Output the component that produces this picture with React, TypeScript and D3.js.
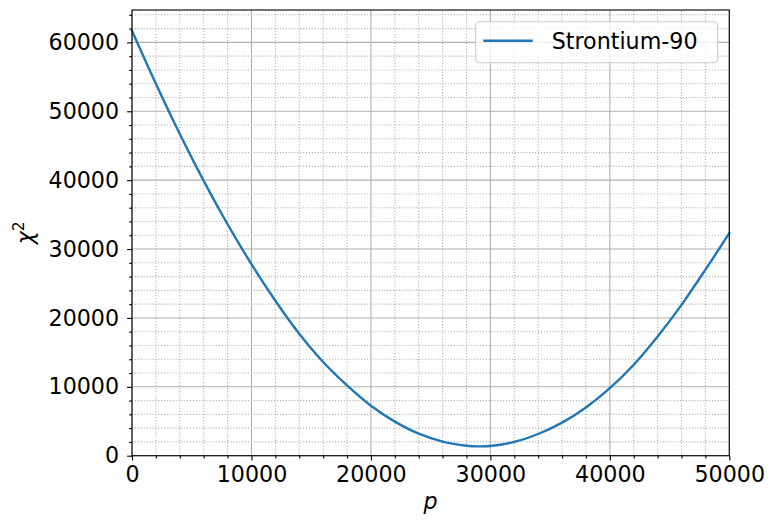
import React, { useEffect, useRef } from 'react';
import * as d3 from 'd3';

// chi^2 scan
const pValues = [0, 2000, 4000, 6000, 8000, 10000, 12000, 14000, 16000, 18000, 20000, 22000, 24000, 26000, 28000, 29000, 30000, 32000, 34000, 36000, 38000, 40000, 42000, 44000, 46000, 48000, 50000];
const chi2Values = [61700, 54000, 46700, 39900, 33600, 27800, 22500, 17700, 13600, 10200, 7250, 4950, 3200, 2050, 1450, 1350, 1400, 2000, 3150, 4800, 7000, 9800, 13200, 17300, 21900, 27000, 32300];
const seriesName = 'Strontium-90';
const xTicks = [0, 10000, 20000, 30000, 40000, 50000];
const yTicks = [0, 10000, 20000, 30000, 40000, 50000, 60000];

const W = 769;
const H = 522;
const FONT = 'DejaVu Sans, sans-serif';
const FS = 22.2;

export default function App() {
  const ref = useRef<SVGSVGElement>(null);

  useEffect(() => {
    const svg = d3.select(ref.current);
    svg.selectAll('*').remove();

    const margin = { top: 10, left: 132, bottom: 66.3, right: 39.7 };
    const x = d3.scaleLinear().domain([0, 50000]).range([margin.left, W - margin.right]);
    const y = d3.scaleLinear().domain([0, 64700]).range([H - margin.bottom, margin.top]);

    const xMinor = d3.range(0, 50001, 2000).filter(v => v % 10000 !== 0);
    const yMinor = d3.range(0, 64700, 2000).filter(v => v % 10000 !== 0);

    svg.append('rect').attr('width', W).attr('height', H).attr('fill', 'white');

    // minor grid (dotted)
    const grid = svg.append('g');
    xMinor.forEach(v => {
      grid.append('line')
        .attr('x1', x(v)).attr('x2', x(v)).attr('y1', y.range()[0]).attr('y2', y.range()[1])
        .attr('stroke', '#b0b0b0').attr('stroke-width', 1.1).attr('stroke-dasharray', '1.1,1.8');
    });
    yMinor.forEach(v => {
      grid.append('line')
        .attr('y1', y(v)).attr('y2', y(v)).attr('x1', x.range()[0]).attr('x2', x.range()[1])
        .attr('stroke', '#b0b0b0').attr('stroke-width', 1.1).attr('stroke-dasharray', '1.1,1.8');
    });
    // major grid
    xTicks.forEach(v => {
      grid.append('line')
        .attr('x1', x(v)).attr('x2', x(v)).attr('y1', y.range()[0]).attr('y2', y.range()[1])
        .attr('stroke', '#b0b0b0').attr('stroke-width', 1.1);
    });
    yTicks.forEach(v => {
      grid.append('line')
        .attr('y1', y(v)).attr('y2', y(v)).attr('x1', x.range()[0]).attr('x2', x.range()[1])
        .attr('stroke', '#b0b0b0').attr('stroke-width', 1.1);
    });

    // curve
    const line = d3.line<number>()
      .x((d, i) => x(pValues[i]))
      .y(d => y(d))
      .curve(d3.curveCatmullRom.alpha(0.5));
    svg.append('path')
      .datum(chi2Values)
      .attr('d', line)
      .attr('fill', 'none')
      .attr('stroke', '#1f77b4')
      .attr('stroke-width', 2.4)
      .attr('stroke-linecap', 'square');

    // axes
    const xAxis = g => g
      .attr('transform', `translate(0,${y(0)})`)
      .call(d3.axisBottom(x).tickValues(xTicks).tickFormat(d3.format('d')).tickSizeInner(4.9).tickSizeOuter(0).tickPadding(5.5))
      .call(sel => sel.select('.domain').remove());
    const xAxisMinor = g => g
      .attr('transform', `translate(0,${y(0)})`)
      .call(d3.axisBottom(x).tickValues(xMinor).tickFormat(() => '').tickSizeInner(2.8).tickSizeOuter(0))
      .call(sel => sel.select('.domain').remove());
    const yAxis = g => g
      .attr('transform', `translate(${x(0)},0)`)
      .call(d3.axisLeft(y).tickValues(yTicks).tickFormat(d3.format('d')).tickSizeInner(4.9).tickSizeOuter(0).tickPadding(8))
      .call(sel => sel.select('.domain').remove());
    const yAxisMinor = g => g
      .attr('transform', `translate(${x(0)},0)`)
      .call(d3.axisLeft(y).tickValues(yMinor).tickFormat(() => '').tickSizeInner(2.8).tickSizeOuter(0))
      .call(sel => sel.select('.domain').remove());

    [xAxis, xAxisMinor, yAxis, yAxisMinor].forEach(a => {
      const g = svg.append('g').call(a);
      g.selectAll('line').attr('stroke', 'black').attr('stroke-width', 1.1);
      g.selectAll('text').attr('font-family', FONT).attr('font-size', FS).attr('fill', 'black');
    });

    // frame
    svg.append('rect')
      .attr('x', x(0)).attr('y', margin.top)
      .attr('width', x(50000) - x(0)).attr('height', y(0) - margin.top)
      .attr('fill', 'none').attr('stroke', 'black').attr('stroke-width', 1.1);

    // axis labels
    svg.append('text')
      .attr('x', (x(0) + x(50000)) / 2).attr('y', 509)
      .attr('text-anchor', 'middle')
      .attr('font-family', FONT).attr('font-size', FS).attr('font-style', 'italic')
      .text('p');

    const yl = svg.append('text')
      .attr('transform', `translate(33,${(y(0) + margin.top) / 2}) rotate(-90)`)
      .attr('text-anchor', 'middle')
      .attr('font-family', FONT).attr('font-size', FS);
    yl.append('tspan').attr('font-style', 'italic').text('χ');
    yl.append('tspan').attr('font-size', FS * 0.7).attr('dy', -9).text('2');

    // legend
    const lg = svg.append('g');
    lg.append('rect')
      .attr('x', 475.7).attr('y', 21.7).attr('width', 242).attr('height', 41)
      .attr('rx', 4).attr('ry', 4)
      .attr('fill', 'white').attr('fill-opacity', 0.8)
      .attr('stroke', '#cccccc').attr('stroke-width', 1.1);
    lg.append('line')
      .attr('x1', 483.3).attr('x2', 532.7).attr('y1', 40.7).attr('y2', 40.7)
      .attr('stroke', '#1f77b4').attr('stroke-width', 2.4);
    lg.append('text')
      .attr('x', 551.7).attr('y', 48.7)
      .attr('font-family', FONT).attr('font-size', FS)
      .text(seriesName);
  }, []);

  return (
    <svg ref={ref} width={W} height={H} style={{ position: 'absolute', left: 0, top: 0 }} />
  );
}
